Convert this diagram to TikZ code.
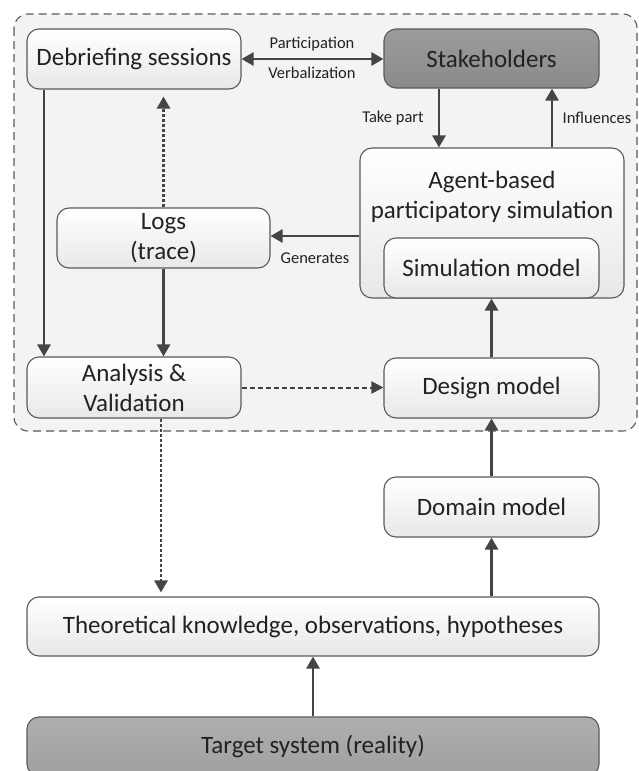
\documentclass[tikz,border=0pt]{standalone}
\usepackage{fontspec}
\setmainfont{Carlito}
\usetikzlibrary{arrows.meta,calc}
\definecolor{edge}{HTML}{5A5A5A}
\definecolor{ink}{HTML}{222222}
\definecolor{arrowgray}{HTML}{444444}
\definecolor{panel}{HTML}{F3F3F3}
\definecolor{darkbox}{HTML}{8A8A8A}
\definecolor{darkbox2}{HTML}{A0A0A0}
\tikzset{
  box/.style={draw=edge, line width=1.1pt, rounded corners=12pt,
    top color=white, bottom color=black!9, text=ink, inner sep=0pt,
    align=center, font=\fontsize{25}{30}\selectfont},
  darkstyle/.style={box, top color=darkbox!85, bottom color=darkbox, text=ink},
  arr/.style={draw=arrowgray, line width=2.7pt,
    -{Triangle[length=12pt,width=13pt]}},
  dotarr/.style={arr, dash pattern=on 3pt off 2pt},
  dasharr/.style={draw=arrowgray, line width=2pt, dash pattern=on 5pt off 3pt,
    -{Triangle[length=12pt,width=12pt]}},
  lbl/.style={text=ink, font=\fontsize{16.5}{18}\selectfont, inner sep=0pt},
}
\begin{document}
\begin{tikzpicture}[x=1pt,y=-1pt]
\useasboundingbox (0,0) rectangle (638,771);
\fill[white] (0,0) rectangle (638,771);

% participatory loop frame
\draw[edge, line width=1.1pt, dash pattern=on 8pt off 5pt, fill=panel,
  rounded corners=14pt] (14,14) rectangle (637,431);

% nodes
\node[box, minimum width=214pt, minimum height=60pt] (debrief) at (134,59) {Debriefing sessions};
\node[darkstyle, minimum width=215pt, minimum height=59pt] (stake) at (491.5,58.5) {Stakeholders};
\node[box, minimum width=264pt, minimum height=150pt] (agent) at (492,223) {};
\node[text=ink, align=center, font=\fontsize{25}{30}\selectfont, inner sep=0pt] (agenttxt) at (492,197) {Agent-based\\participatory simulation};
\node[box, minimum width=215pt, minimum height=60pt] (sim) at (491.5,268) {Simulation model};
\node[box, minimum width=213pt, minimum height=60pt] (logs) at (163.5,238) {Logs\\(trace)};
\node[box, minimum width=214pt, minimum height=61pt] (analysis) at (134,387.5) {Analysis \&\\Validation};
\node[box, minimum width=215pt, minimum height=60pt] (design) at (491.5,388) {Design model};
\node[box, minimum width=215pt, minimum height=60pt] (domain) at (491.5,507) {Domain model};
\node[box, minimum width=572pt, minimum height=59pt] (theory) at (313,626.5) {Theoretical knowledge, observations, hypotheses};
\begin{scope}
  \clip (0,0) rectangle (638,771);
  \node[darkstyle, top color=darkbox2!85, bottom color=darkbox2, minimum width=572pt, minimum height=59pt] (target) at (313,746.5) {Target system (reality)};
\end{scope}

% reference x positions for parallel connectors
\coordinate (takex) at (439,0);
\coordinate (infx) at (552,0);
\coordinate (leftx) at (44,0);
\coordinate (valx) at (161,0);

% connectors
\draw[arr, {Triangle[length=12pt,width=13pt]}-{Triangle[length=12pt,width=13pt]}] (debrief.east) -- (stake.west |- debrief.east);
\node[lbl] (lpart) at (312,44) {Participation};
\node[lbl] (lverb) at (312,73) {Verbalization};

\draw[arr] (stake.south -| takex) -- (agent.north -| takex);
\node[lbl] (ltake) at (393,118) {Take part};
\draw[arr] (agent.north -| infx) -- (stake.south -| infx);
\node[lbl] (linf) at (597,118) {Influences};

\draw[arr] (agent.west |- 0,236) -- (logs.east |- 0,236);
\node[lbl] (lgen) at (315,258) {Generates};

\draw[dotarr, shorten >=7pt] (logs.north) -- (debrief.south -| logs.north);
\draw[arr] (debrief.south -| leftx) -- (analysis.north -| leftx);
\draw[arr] (logs.south) -- (analysis.north -| logs.south);
\draw[dasharr] (analysis.east) -- (design.west |- analysis.east);
\draw[arr] (design.north) -- (sim.south);
\draw[arr] (domain.north) -- (design.south);
\draw[dotarr, shorten >=4pt] (analysis.south -| valx) -- (theory.north -| valx);
\draw[arr] (theory.north -| domain.south) -- (domain.south);
\draw[arr] (target.north -| theory.south) -- (theory.south);
\end{tikzpicture}
\end{document}
